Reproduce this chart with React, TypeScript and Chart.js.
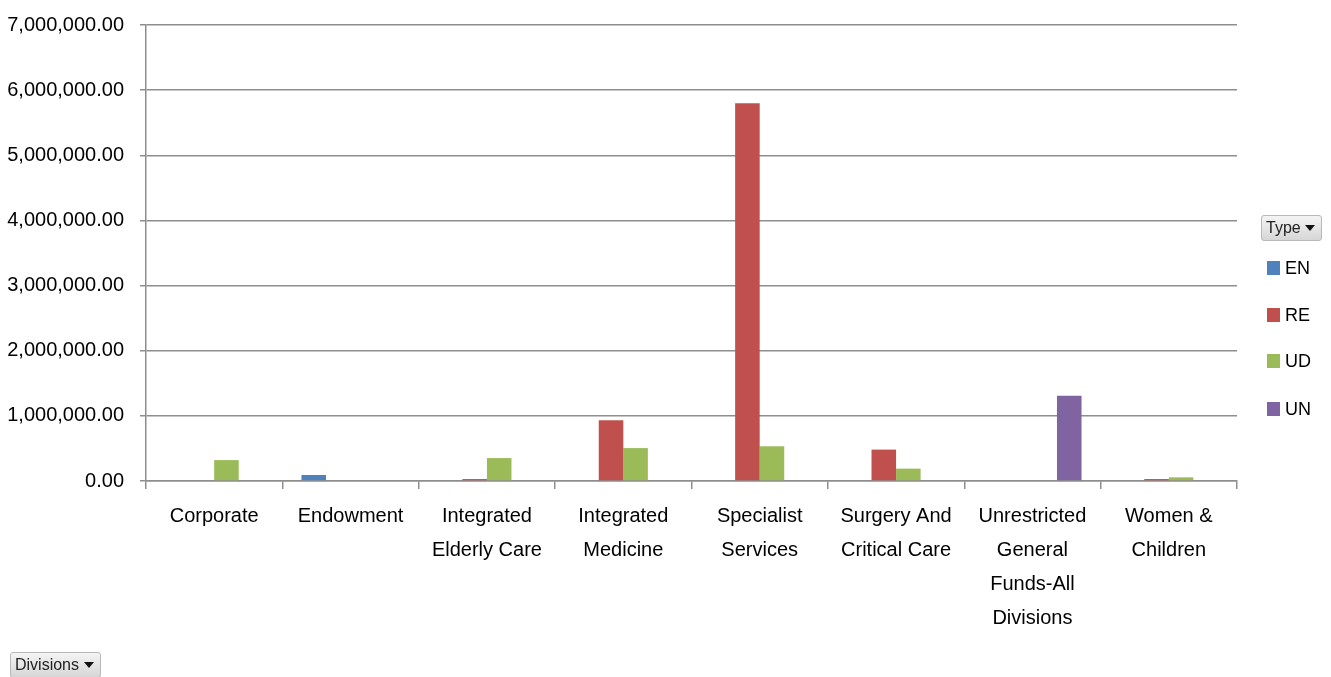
import React, { useEffect, useRef } from "react";
import { Chart, registerables } from "chart.js";

Chart.register(...registerables);

// Divisions along the category axis (multi-line labels)
const categories: string[][] = [
  ["Corporate"],
  ["Endowment"],
  ["Integrated", "Elderly Care"],
  ["Integrated", "Medicine"],
  ["Specialist", "Services"],
  ["Surgery And", "Critical Care"],
  ["Unrestricted", "General", "Funds-All", "Divisions"],
  ["Women &", "Children"],
];

// Fund types per division (null = no amount)
const enValues = [null, 92000, null, null, null, null, null, null];
const reValues = [null, null, 30000, 934000, 5800000, 482000, null, 30000];
const udValues = [321000, null, 352000, 505000, 533000, 190000, null, 56000];
const unValues = [null, null, null, null, null, null, 1308000, null];

const seriesNames = ["EN", "RE", "UD", "UN"];
const seriesColors = ["#4f81bd", "#c0504d", "#9bbb59", "#8064a2"];

const yTicks = [0, 1000000, 2000000, 3000000, 4000000, 5000000, 6000000, 7000000];

const FONT = "'Liberation Sans', Arial, sans-serif";
const GRID = "#8e8e8e";

const fmt = (v: number) =>
  v.toLocaleString("en-US", { minimumFractionDigits: 2, maximumFractionDigits: 2 });

function DropButton({ label, style }: { label: string; style: React.CSSProperties }) {
  return (
    <div
      style={{
        position: "absolute",
        boxSizing: "border-box",
        display: "flex",
        alignItems: "center",
        justifyContent: "space-between",
        padding: "0 6px 0 4px",
        border: "1px solid #b8b8b8",
        borderRadius: 3,
        background: "linear-gradient(#f4f4f4, #d6d6d6)",
        fontFamily: FONT,
        fontSize: 16,
        color: "#222",
        ...style,
      }}
    >
      <span>{label}</span>
      <span
        style={{
          width: 0,
          height: 0,
          borderLeft: "5px solid transparent",
          borderRight: "5px solid transparent",
          borderTop: "6px solid #111",
        }}
      />
    </div>
  );
}

export default function App() {
  const canvasRef = useRef<HTMLCanvasElement | null>(null);

  useEffect(() => {
    if (!canvasRef.current) return;
    const values = [enValues, reValues, udValues, unValues];
    const chart = new Chart(canvasRef.current, {
      type: "bar",
      data: {
        labels: categories,
        datasets: seriesNames.map((name, i) => ({
          label: name,
          data: values[i],
          backgroundColor: seriesColors[i],
          borderWidth: 0,
          categoryPercentage: 0.72,
          barPercentage: 1,
        })),
      },
      options: {
        animation: false,
        responsive: false,
        maintainAspectRatio: false,
        layout: { padding: { top: 25, right: 94, bottom: 0, left: 0 } },
        plugins: {
          legend: { display: false },
          tooltip: { enabled: false },
        },
        scales: {
          x: {
            offset: true,
            grid: {
              offset: true,
              drawOnChartArea: false,
              drawTicks: true,
              tickLength: 8,
              color: GRID,
              lineWidth: 1.5,
            },
            border: { display: true, color: GRID, width: 1.5 },
            ticks: {
              autoSkip: false,
              maxRotation: 0,
              minRotation: 0,
              padding: 10,
              color: "#000",
              font: { family: FONT, size: 20, lineHeight: 1.7 },
            },
            afterFit: (scale: any) => {
              scale.height = 196;
              scale.paddingLeft = 0;
              scale.paddingRight = 0;
            },
          },
          y: {
            min: 0,
            max: 7000000,
            afterBuildTicks: (scale: any) => {
              scale.ticks = yTicks.map((v) => ({ value: v }));
            },
            grid: {
              color: GRID,
              lineWidth: 1.5,
              tickLength: 6,
              drawTicks: true,
            },
            border: { display: true, color: GRID, width: 1.5 },
            ticks: {
              padding: 16,
              color: "#000",
              font: { family: FONT, size: 20 },
              callback: (v: any) => fmt(Number(v)),
            },
            afterFit: (scale: any) => {
              scale.width = 146;
              scale.paddingTop = 0;
              scale.paddingBottom = 0;
            },
          },
        },
      },
    });
    return () => chart.destroy();
  }, []);

  const legendTops = [268, 315, 361, 409];

  return (
    <div
      style={{
        position: "fixed",
        left: 0,
        top: 0,
        width: 1331,
        height: 677,
        background: "#fff",
        overflow: "hidden",
      }}
    >
      <canvas ref={canvasRef} width={1331} height={677} style={{ width: 1331, height: 677 }} />
      <DropButton label="Type" style={{ left: 1261, top: 215, width: 61, height: 26 }} />
      {seriesNames.map((name, i) => (
        <div
          key={name}
          style={{
            position: "absolute",
            left: 1267,
            top: legendTops[i] - 12,
            height: 24,
            display: "flex",
            alignItems: "center",
            fontFamily: FONT,
            fontSize: 18,
            color: "#000",
          }}
        >
          <span
            style={{
              display: "inline-block",
              width: 13,
              height: 14,
              background: seriesColors[i],
              marginRight: 5,
            }}
          />
          <span>{name}</span>
        </div>
      ))}
      <DropButton label="Divisions" style={{ left: 10, top: 652, width: 91, height: 26 }} />
    </div>
  );
}
